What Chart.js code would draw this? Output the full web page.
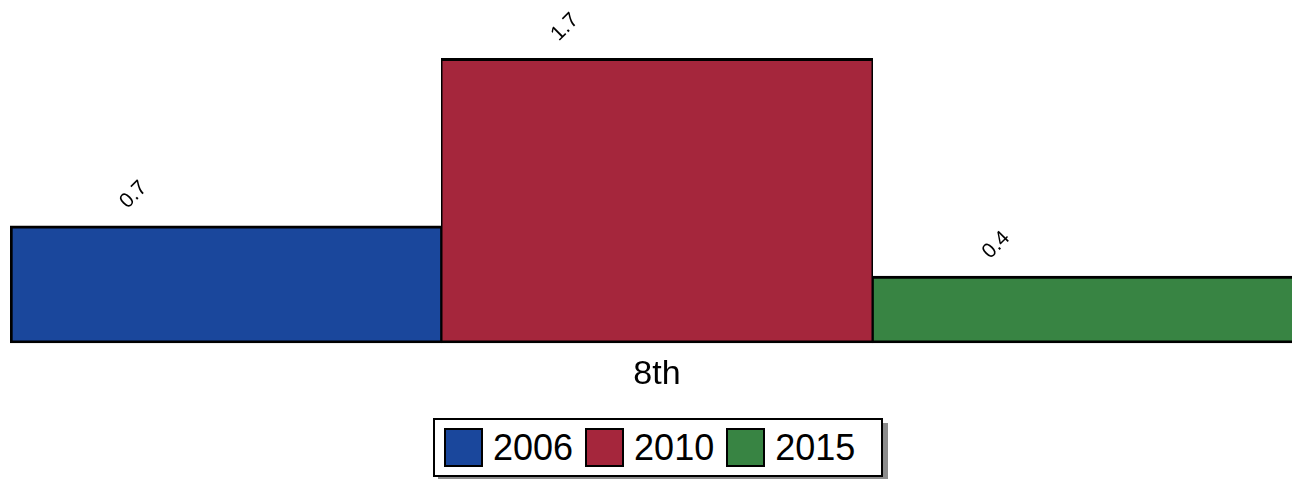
<!DOCTYPE html>
<html>
<head>
<meta charset="utf-8">
<script src="https://cdn.jsdelivr.net/npm/chart.js@4.4.1/dist/chart.umd.min.js"></script>
<style>
  html, body { margin: 0; padding: 0; background: #fff; overflow: hidden; }
  body { width: 1292px; height: 479px; position: relative; font-family: "Liberation Sans", Arial, sans-serif; }
  #wrap { position: absolute; left: 0; top: 0; width: 1310px; height: 400px; }
  #legend {
    position: absolute; left: 433px; top: 418px; height: 55px; width: 437px; box-sizing: content-box;
    border: 2px solid #000; background: #fff; box-shadow: 5px 5px 0 #8c8c8c;
    display: flex; align-items: center; padding: 0 0 0 9px;
  }
  .sw { width: 35px; height: 35px; border: 2px solid #000; margin-right: 10px; }
  .lt { font-size: 36px; margin-right: 12px; color: #000; line-height: 1; }
  .lt:last-child { margin-right: 0; }
</style>
</head>
<body>
<div id="wrap"><canvas id="bar-chart"></canvas></div>
<div id="legend"></div>
<script>
// values
var categories = ["8th"];
var years = ["2006", "2010", "2015"];
var values2006 = [0.7];
var values2010 = [1.7];
var values2015 = [0.4];
var colors = ["#1a479c", "#a5263c", "#388443"];

function myChart() {
	var canvas = document.getElementById("bar-chart");
	canvas.style.width = '1304px';
	canvas.style.height = '400px';

	var valueLabels = {
		id: 'valueLabels',
		afterDatasetsDraw: function (chart) {
			var ctx = chart.ctx;
			ctx.save();
			ctx.font = '21px "Liberation Sans", Arial, sans-serif';
			ctx.fillStyle = '#000';
			ctx.textAlign = 'center';
			ctx.textBaseline = 'middle';
			chart.data.datasets.forEach(function (ds, i) {
				chart.getDatasetMeta(i).data.forEach(function (bar, j) {
					ctx.save();
					ctx.translate(bar.x - 92, bar.y - 31);
					ctx.rotate(-Math.PI / 4);
					ctx.fillText(String(ds.data[j]), 0, 0);
					ctx.restore();
				});
			});
			ctx.restore();
		}
	};

	var chart = new Chart(canvas, {
		type: 'bar',
		data: {
			labels: categories,
			datasets: [{
				label: years[0],
				data: values2006,
				backgroundColor: colors[0],
				borderColor: '#000',
				borderWidth: { top: 3, bottom: 3, left: 3, right: 1.5 },
				borderSkipped: false
			}, {
				label: years[1],
				data: values2010,
				backgroundColor: colors[1],
				borderColor: '#000',
				borderWidth: { top: 3, bottom: 3, left: 1.5, right: 1.5 },
				borderSkipped: false
			}, {
				label: years[2],
				data: values2015,
				backgroundColor: colors[2],
				borderColor: '#000',
				borderWidth: { top: 3, bottom: 3, left: 1.5, right: 3 },
				borderSkipped: false
			}]
		},
		options: {
			responsive: false,
			animation: false,
			devicePixelRatio: 1,
			layout: { padding: { left: 10, right: 0, top: 8, bottom: 2 } },
			datasets: { bar: { categoryPercentage: 1, barPercentage: 1 } },
			plugins: {
				legend: { display: false },
				tooltip: { enabled: false }
			},
			scales: {
				x: {
					grid: { display: false },
					border: { display: false },
					ticks: {
						color: '#000',
						padding: 3,
						font: { family: '"Liberation Sans", Arial, sans-serif', size: 34 }
					}
				},
				y: {
					display: false,
					min: 0,
					max: 2
				}
			}
		},
		plugins: [valueLabels]
	});

	// legend built from the same datasets
	var legend = document.getElementById('legend');
	chart.data.datasets.forEach(function (ds) {
		var sw = document.createElement('div');
		sw.className = 'sw';
		sw.style.background = ds.backgroundColor;
		var t = document.createElement('div');
		t.className = 'lt';
		t.textContent = ds.label;
		legend.appendChild(sw);
		legend.appendChild(t);
	});
}
myChart();
</script>
</body>
</html>
